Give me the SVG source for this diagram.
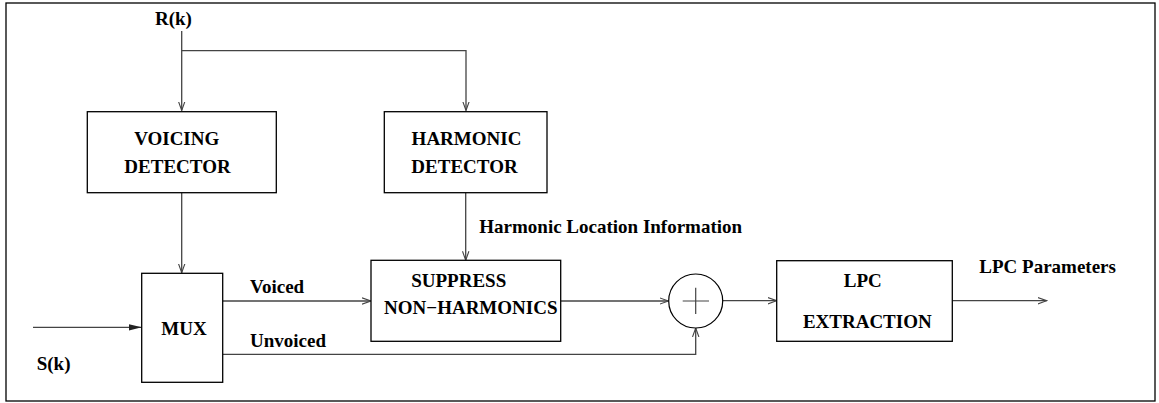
<svg xmlns="http://www.w3.org/2000/svg" width="1159" height="403" viewBox="0 0 1159 403">
<style>
.box{fill:#fff;stroke:#000;stroke-width:1.3}
.ln{fill:none;stroke:#444;stroke-width:1.3}
text{font-family:"Liberation Serif","Times New Roman",serif;font-weight:bold;font-size:19px;fill:#000}
.c{text-anchor:middle}
</style>
<defs>
<marker id="open" markerWidth="10" markerHeight="8" refX="9" refY="4" orient="auto" markerUnits="userSpaceOnUse">
<path d="M0,0.8 L9,4 L0,7.2" fill="none" stroke="#444" stroke-width="1.1"/>
</marker>
<marker id="fill" markerWidth="14" markerHeight="8" refX="13" refY="4" orient="auto" markerUnits="userSpaceOnUse">
<path d="M0,0.8 L13,4 L0,7.2 Z" fill="#222" stroke="none"/>
</marker>
</defs>
<rect x="6" y="3" width="1149" height="398" fill="#fff" stroke="#000" stroke-width="1.3"/>
<g id="connectors">
<path class="ln" d="M181.7,31 V110.5" marker-end="url(#open)"/>
<path class="ln" d="M181.7,50.7 H466 V110.5" marker-end="url(#open)"/>
<path class="ln" d="M181.7,192.7 V272.7" marker-end="url(#open)"/>
<path class="ln" d="M33,327.3 H141.7" marker-end="url(#fill)"/>
<path class="ln" d="M222.7,301 H371" marker-end="url(#open)"/>
<path class="ln" d="M222.7,354.3 H695.7 V328" marker-end="url(#open)"/>
<path class="ln" d="M465.7,192.7 V260.3" marker-end="url(#open)"/>
<path class="ln" d="M560.7,301 H668.5" marker-end="url(#open)"/>
<path class="ln" d="M722.7,300.7 H776.7" marker-end="url(#open)"/>
<path class="ln" d="M952.3,300.7 H1046.7" marker-end="url(#open)"/>
<text x="479.3" y="232.7">Harmonic Location Information</text>
<text x="250" y="293">Voiced</text>
<text x="250" y="346.7">Unvoiced</text>
<text x="979.3" y="273.3">LPC Parameters</text>
</g>
<g id="rk"><text x="155" y="25">R(k)</text></g>
<g id="sk"><text x="36.7" y="370">S(k)</text></g>
<g id="voicing">
<rect class="box" x="87.3" y="111.7" width="189" height="81"/>
<text class="c" x="176.7" y="145">VOICING</text>
<text class="c" x="177.5" y="173">DETECTOR</text>
</g>
<g id="harmonic">
<rect class="box" x="384.3" y="111.7" width="162.7" height="81"/>
<text class="c" x="466.5" y="145">HARMONIC</text>
<text class="c" x="464.5" y="173">DETECTOR</text>
</g>
<g id="mux">
<rect class="box" x="141.7" y="273.3" width="81" height="109"/>
<text class="c" x="184" y="335">MUX</text>
</g>
<g id="suppress">
<rect class="box" x="371" y="260.3" width="189.7" height="81"/>
<text class="c" x="458.7" y="286.7">SUPPRESS</text>
<text class="c" x="470.8" y="314.3">NON−HARMONICS</text>
</g>
<g id="sum">
<circle cx="695.7" cy="301" r="27" fill="#fff" stroke="#000" stroke-width="1.2"/>
<path d="M682.7,301 H709 M695.7,287.7 V314" stroke="#444" stroke-width="1.2"/>
</g>
<g id="lpc">
<rect class="box" x="776.7" y="260.7" width="175.6" height="80.6"/>
<text class="c" x="862.8" y="287.3">LPC</text>
<text class="c" x="867.3" y="328.3">EXTRACTION</text>
</g>
</svg>
